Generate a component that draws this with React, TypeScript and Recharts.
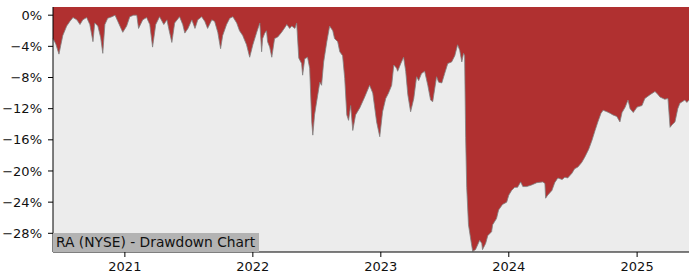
import { AreaChart, Area, XAxis, YAxis, CartesianGrid, ReferenceArea } from "recharts";

// drawdown from running peak, in percent
const dates = [
  "2020-06-10", "2020-06-18", "2020-06-27", "2020-07-02", "2020-07-08", "2020-07-19", "2020-07-28", "2020-08-06",
  "2020-08-17", "2020-08-26", "2020-09-03", "2020-09-14", "2020-09-23", "2020-10-02", "2020-10-07", "2020-10-16",
  "2020-10-24", "2020-10-30", "2020-11-05", "2020-11-13", "2020-11-25", "2020-12-04", "2020-12-12", "2020-12-21",
  "2020-12-26", "2021-01-06", "2021-01-15", "2021-01-26", "2021-02-04", "2021-02-09", "2021-02-21", "2021-03-04",
  "2021-03-13", "2021-03-21", "2021-03-30", "2021-04-10", "2021-04-22", "2021-05-01", "2021-05-06", "2021-05-15",
  "2021-05-23", "2021-06-06", "2021-06-15", "2021-06-21", "2021-06-30", "2021-07-11", "2021-07-20", "2021-07-28",
  "2021-08-08", "2021-08-17", "2021-08-25", "2021-09-06", "2021-09-14", "2021-09-23", "2021-10-01", "2021-10-07",
  "2021-10-18", "2021-10-27", "2021-11-05", "2021-11-16", "2021-11-24", "2021-12-03", "2021-12-14", "2021-12-23",
  "2022-01-01", "2022-01-12", "2022-01-21", "2022-01-26", "2022-01-29", "2022-02-04", "2022-02-09", "2022-02-12",
  "2022-02-18", "2022-02-24", "2022-03-04", "2022-03-13", "2022-03-24", "2022-04-02", "2022-04-08", "2022-04-16",
  "2022-04-22", "2022-05-01", "2022-05-06", "2022-05-12", "2022-05-20", "2022-05-23", "2022-05-29", "2022-06-06",
  "2022-06-12", "2022-06-18", "2022-06-21", "2022-06-26", "2022-07-02", "2022-07-11", "2022-07-16", "2022-07-22",
  "2022-07-31", "2022-08-08", "2022-08-17", "2022-08-22", "2022-08-31", "2022-09-06", "2022-09-14", "2022-09-20",
  "2022-09-26", "2022-10-01", "2022-10-07", "2022-10-13", "2022-10-21", "2022-11-02", "2022-11-16", "2022-11-30",
  "2022-12-09", "2022-12-20", "2022-12-29", "2023-01-06", "2023-01-15", "2023-01-23", "2023-02-01", "2023-02-07",
  "2023-02-15", "2023-02-18", "2023-02-27", "2023-03-07", "2023-03-13", "2023-03-19", "2023-03-27", "2023-04-05",
  "2023-04-13", "2023-04-19", "2023-04-27", "2023-05-06", "2023-05-15", "2023-05-23", "2023-05-29", "2023-06-09",
  "2023-06-15", "2023-06-24", "2023-07-02", "2023-07-11", "2023-07-22", "2023-07-31", "2023-08-08", "2023-08-14",
  "2023-08-20", "2023-08-25", "2023-08-28", "2023-08-31", "2023-09-03", "2023-09-08", "2023-09-17", "2023-09-20",
  "2023-09-28", "2023-10-04", "2023-10-10", "2023-10-16", "2023-10-18", "2023-10-27", "2023-11-02", "2023-11-13",
  "2023-11-16", "2023-11-27", "2023-12-03", "2023-12-14", "2023-12-26", "2024-01-01", "2024-01-09", "2024-01-18",
  "2024-01-26", "2024-02-04", "2024-02-10", "2024-02-21", "2024-03-06", "2024-03-21", "2024-04-07", "2024-04-13",
  "2024-04-15", "2024-04-21", "2024-05-03", "2024-05-11", "2024-05-20", "2024-06-01", "2024-06-09", "2024-06-17",
  "2024-06-29", "2024-07-07", "2024-07-16", "2024-07-27", "2024-08-05", "2024-08-16", "2024-08-25", "2024-09-03",
  "2024-09-11", "2024-09-20", "2024-09-26", "2024-10-07", "2024-10-16", "2024-10-24", "2024-11-04", "2024-11-13",
  "2024-11-19", "2024-11-28", "2024-12-06", "2024-12-12", "2024-12-21", "2025-01-01", "2025-01-15", "2025-01-23",
  "2025-02-07", "2025-02-21", "2025-03-02", "2025-03-07", "2025-03-21", "2025-03-30", "2025-04-05", "2025-04-10",
  "2025-04-19", "2025-04-27", "2025-05-03", "2025-05-17", "2025-05-23", "2025-05-29",
];

const drawdown = [
  -3.0, -3.7, -5.0, -3.9, -2.6, -1.4, -0.8, -0.3,
  -0.6, -1.2, -0.6, -0.3, -1.2, -3.4, -1.0, -1.4,
  -2.9, -4.9, -1.2, -0.4, -0.2, 0, -0.8, -1.7,
  -2.2, -1.4, -0.2, 0, 0, -1.7, -0.6, -0.3,
  -1.2, -4.1, -1.2, -0.2, -1.2, -0.6, -1.7, -3.5,
  -1.0, -0.2, -1.2, -2.3, -1.7, -0.6, -1.7, -0.6,
  -0.2, -0.8, -1.7, -0.6, -0.8, -2.2, -4.3, -2.6,
  -1.2, -0.4, -0.2, -1.0, -2.0, -2.6, -3.8, -5.4,
  -3.8, -2.2, -1.0, -4.7, -3.0, -2.3, -2.0, -3.4,
  -4.1, -5.4, -3.0, -2.8, -2.2, -1.6, -1.2, -1.7,
  -1.4, -1.7, -1.0, -5.5, -6.2, -7.7, -5.6, -5.4,
  -6.8, -13.7, -15.4, -12.8, -11.1, -8.6, -9.0, -6.0,
  -3.4, -1.4, -2.0, -3.0, -3.4, -4.7, -5.2, -8.1,
  -12.8, -13.5, -11.6, -14.8, -12.8, -11.9, -10.5, -9.0,
  -10.0, -13.7, -15.6, -12.4, -10.7, -10.0, -9.0, -6.4,
  -6.8, -7.2, -6.2, -5.4, -7.2, -10.2, -12.4, -10.7,
  -7.9, -8.4, -7.5, -7.2, -9.0, -10.9, -11.1, -7.9,
  -8.6, -8.7, -7.5, -6.2, -6.0, -5.2, -3.8, -4.5,
  -6.0, -4.9, -5.2, -15.7, -22.1, -26.9, -29.5, -30.3,
  -30.1, -29.5, -28.9, -29.3, -30.1, -29.3, -28.3, -27.8,
  -26.9, -26.1, -25.0, -24.3, -24.0, -23.1, -22.5, -22.1,
  -22.1, -21.4, -22.0, -22.0, -21.8, -21.5, -21.4, -21.6,
  -23.5, -23.1, -22.5, -21.5, -20.9, -21.1, -20.8, -20.9,
  -20.3, -19.7, -19.5, -18.9, -18.2, -17.2, -16.1, -14.8,
  -13.7, -12.6, -12.2, -12.4, -12.6, -12.8, -13.0, -13.7,
  -12.5, -11.8, -10.9, -12.0, -12.5, -11.8, -11.6, -10.7,
  -10.2, -9.8, -10.2, -10.5, -10.8, -10.7, -14.4, -14.1,
  -13.7, -12.0, -11.3, -10.9, -11.2, -10.9,
];

const yearTicks = ["2021-01-01", "2022-01-01", "2023-01-01", "2024-01-01", "2025-01-01"];
const pctTicks = [-28, -24, -20, -16, -12, -8, -4, 0];

const data = dates.map((d, i) => ({ t: Date.parse(d), dd: drawdown[i] }));
const xTicks = yearTicks.map((d) => Date.parse(d));

const FONT = "'DejaVu Sans', sans-serif";
const TICK = { fontFamily: FONT, fontSize: 13, fill: "#111" };

const pct = (v: number) => (v < 0 ? `\u2212${Math.abs(v)}%` : `${v}%`);

export default function App() {
  return (
    <div style={{ position: "relative", width: 700, height: 280 }}>
      <style>{`body{margin:0;background:#fff}`}</style>
      <AreaChart width={700} height={280} data={data} margin={{ top: 7, right: 11, bottom: 0, left: 0 }}>
        <CartesianGrid fill="#ececec" horizontal={false} vertical={false} />
        <XAxis
          dataKey="t"
          type="number"
          scale="time"
          domain={["dataMin", "dataMax"]}
          ticks={xTicks}
          tickFormatter={(v) => String(new Date(v).getUTCFullYear())}
          tick={TICK}
          tickSize={5}
          tickMargin={5}
          height={28}
          axisLine={{ stroke: "#000" }}
          tickLine={{ stroke: "#000" }}
        />
        <YAxis
          type="number"
          domain={[-30.4, 1.05]}
          allowDataOverflow
          ticks={pctTicks}
          tickFormatter={pct}
          tick={TICK}
          tickSize={5}
          tickMargin={6}
          width={53}
          axisLine={{ stroke: "#000" }}
          tickLine={{ stroke: "#000" }}
        />
        <Area
          dataKey="dd"
          type="linear"
          baseValue="dataMax"
          fill="#b03030"
          fillOpacity={1}
          stroke="#808080"
          strokeWidth={0.8}
          isAnimationActive={false}
        />
        <ReferenceArea fill="none" stroke="#000" strokeWidth={1} />
      </AreaChart>
      <div
        style={{
          position: "absolute",
          left: 53,
          top: 233,
          height: 19,
          width: 206,
          background: "#b3b3b3",
          fontFamily: FONT,
          fontSize: 13.8,
          lineHeight: "19px",
          color: "#111",
          paddingLeft: 3,
          boxSizing: "border-box",
          whiteSpace: "nowrap",
        }}
      >
        RA (NYSE) - Drawdown Chart
      </div>
    </div>
  );
}
